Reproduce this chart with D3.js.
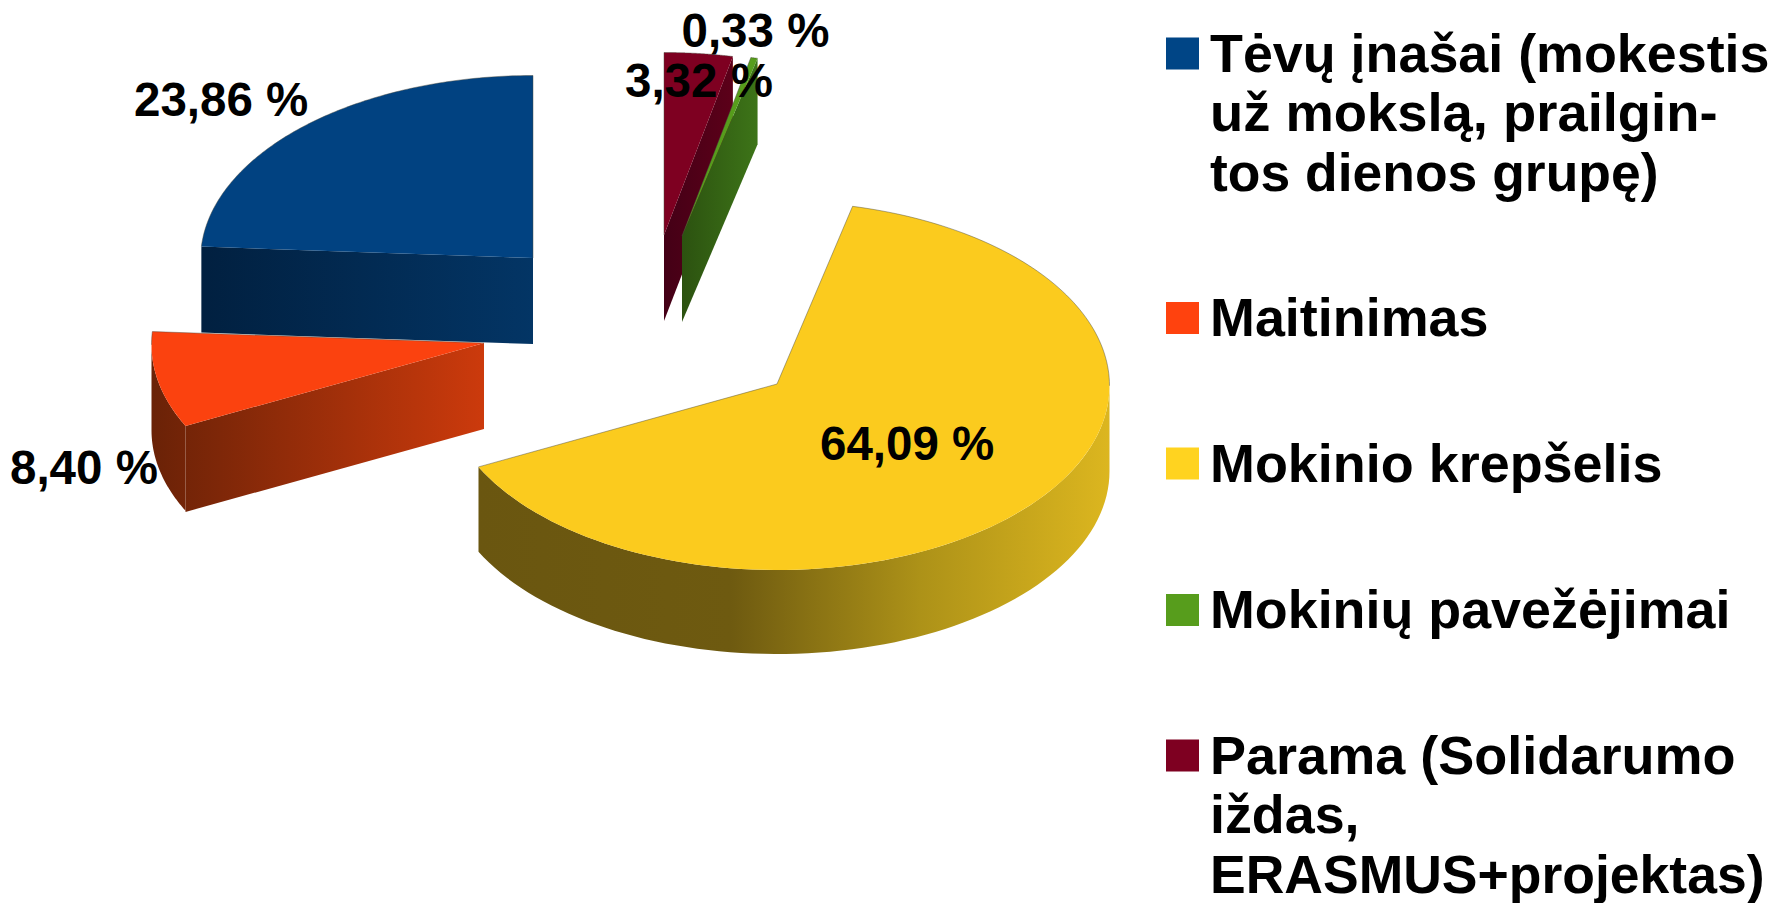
<!DOCTYPE html>
<html><head><meta charset="utf-8">
<script src="https://cdn.jsdelivr.net/npm/d3@7"></script>
<style>
html,body{margin:0;padding:0;background:#fff;overflow:hidden}
text{font-family:"Liberation Sans",Arial,sans-serif;font-weight:bold;fill:#000}
</style></head><body>
<script>
// ---- data ----
const categories = ["Tėvų įnašai (mokestis už mokslą, prailgintos dienos grupę)","Maitinimas","Mokinio krepšelis","Mokinių pavežėjimai","Parama (Solidarumo iždas, ERASMUS+projektas)"];
const values = [23.86, 8.40, 64.09, 0.33, 3.32];
const valueLabels = ["23,86 %","8,40 %","64,09 %","0,33 %","3,32 %"];
const legendLines = [
  ["Tėvų įnašai (mokestis","už mokslą, prailgin-","tos dienos grupę)"],
  ["Maitinimas"],
  ["Mokinio krepšelis"],
  ["Mokinių pavežėjimai"],
  ["Parama (Solidarumo","iždas,","ERASMUS+projektas)"]
];
// ---- style / layout ----
const legendColors = ["#004586","#ff420e","#ffd320","#579d1c","#7e0021"];
const topColors = ["#014281","#fb420f","#fbcb1e","#579d1c","#7e0021"];
const wallStops = [
  [[0,"#012040"],[1,"#033565"]],
  [[0,"#6a2207"],[1,"#cc3a0c"]],
  [[0,"#6a5610"],[.4,"#6e5a10"],[.7,"#ad9218"],[1,"#dcb61f"]],
  [[0,"#2c5210"],[1,"#3d7418"]],
  [[0,"#440016"],[1,"#5c0019"]]
];
const sliceCenters = [[533,258],[484,343],[777,384],[682,236],[664,235]];
const rx = 332.5, ry = 184.25, rimShift = 1.75, depth = 86;
const labelPos = [[134,116],[10,484],[820,460],[681.5,47],[625,97]];
const labelSize = 47.5, legendSize = 53.5;
const legendX = 1210, swatchX = 1166, swatchW = 33, swatchH = 32, lineH = 59.7;
const legendBaselines = [71.5,336,481.5,628,773.5];
const legendLineEnds = [[1769.5,1717.5,1658.5],[1488.5],[1662.5],[1730.5],[1735.5,1359.5,1764.5]];
const drawOrder = [0,4,3,1,2];

const svg = d3.select("body").append("svg").attr("width",1777).attr("height",903);
const defs = svg.append("defs");
const pie = d3.pie().sort(null).startAngle(0).endAngle(-2*Math.PI);
const arcs = pie(values);
const line = d3.line();

function rim(c,t){return [c[0]+rx*Math.sin(t), c[1]+rimShift-ry*Math.cos(t)];}
function rimLow(c,t){const p=rim(c,t);return [p[0],p[1]+depth-.5+1.5*Math.cos(t)];}
function sweep(a,b,n){return d3.range(0,n+1).map(k=>a+(b-a)*k/n);}

drawOrder.forEach(i=>{
  const a = arcs[i], c = sliceCenters[i];
  const lo = a.endAngle+2*Math.PI, hi = a.startAngle+2*Math.PI; // clockwise from top
  const g = svg.append("g");
  const polys = [];
  // cut faces
  const visLo = Math.sin(lo)<-1e-6, visHi = Math.sin(hi)>1e-6;
  [[lo,visLo],[hi,visHi]].forEach(([t,vis])=>{
    if(!vis) return;
    const r = rim(c,t);
    polys.push([c,r,[r[0],r[1]+depth],[c[0],c[1]+depth]]);
  });
  // outer wall: front half only
  const w0 = Math.max(lo,Math.PI/2), w1 = Math.min(hi,3*Math.PI/2);
  if(w1>w0){
    const ts = sweep(w0,w1,80);
    polys.push(ts.map(t=>rim(c,t)).concat(ts.slice().reverse().map(t=>rimLow(c,t))));
  }
  const xs = polys.flat().map(p=>p[0]);
  const gid = "wall"+i;
  const grad = defs.append("linearGradient").attr("id",gid).attr("gradientUnits","userSpaceOnUse")
    .attr("x1",d3.min(xs)).attr("x2",d3.max(xs)).attr("y1",0).attr("y2",0);
  wallStops[i].forEach(s=>grad.append("stop").attr("offset",s[0]).attr("stop-color",s[1]));
  polys.forEach(p=>g.append("path").attr("d",line(p)+"Z").attr("fill",`url(#${gid})`));
  // top face
  const ring = sweep(lo,hi,120).map(t=>rim(c,t));
  g.append("path").attr("d",line([c].concat(ring))+"Z").attr("fill",topColors[i]);
  // thin edge where the top face borders the white page
  const edges = [];
  if(lo<Math.PI/2) edges.push(sweep(lo,Math.min(hi,Math.PI/2),60).map(t=>rim(c,t)));
  if(hi>3*Math.PI/2) edges.push(sweep(Math.max(lo,3*Math.PI/2),hi,60).map(t=>rim(c,t)));
  if(!visLo) edges.push([c,rim(c,lo)]);
  if(!visHi) edges.push([c,rim(c,hi)]);
  edges.forEach(e=>g.append("path").attr("d",line(e)).attr("fill","none")
    .attr("stroke","#4a4a40").attr("stroke-opacity",.65).attr("stroke-width",.7));
});

// value labels
svg.append("g").selectAll("text").data(valueLabels).join("text")
  .attr("x",(d,i)=>labelPos[i][0]).attr("y",(d,i)=>labelPos[i][1])
  .attr("font-size",labelSize).text(d=>d);

// legend
const lg = svg.append("g");
legendLines.forEach((ls,i)=>{
  lg.append("rect").attr("x",swatchX).attr("y",legendBaselines[i]-34)
    .attr("width",swatchW).attr("height",swatchH).attr("fill",legendColors[i]);
  ls.forEach((s,j)=>lg.append("text").attr("x",legendX).attr("y",legendBaselines[i]+j*lineH)
    .attr("font-size",legendSize)
    .attr("textLength",legendLineEnds[i][j]-legendX).attr("lengthAdjust","spacingAndGlyphs").text(s));
});
</script>
</body></html>
